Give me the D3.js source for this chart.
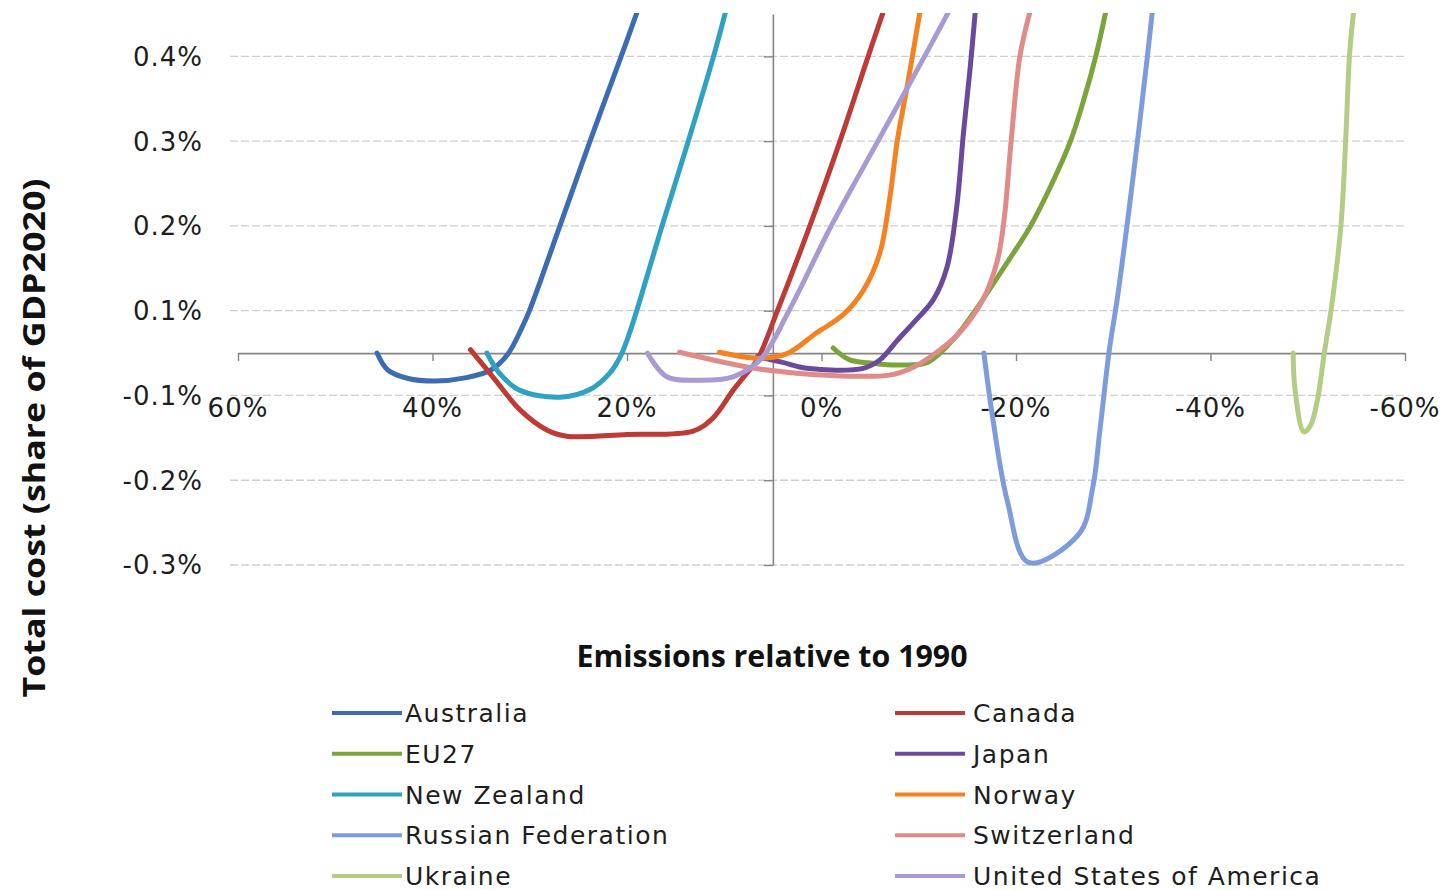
<!DOCTYPE html>
<html>
<head>
<meta charset="utf-8">
<script src="https://cdn.jsdelivr.net/npm/d3@7"></script>
<style>
  body { margin: 0; background: #ffffff; }
  svg { display: block; }
</style>
</head>
<body>
<svg id="chart" width="1448" height="890"></svg>
<script>
// Abatement cost curves: total cost (% of GDP 2020) vs emissions relative to 1990 (%)
const countries = ["Australia", "Canada", "EU27", "Japan", "New Zealand", "Norway",
  "Russian Federation", "Switzerland", "Ukraine", "United States of America"];
const colors = ["#3C6DB4", "#BE3A35", "#7BA43B", "#6B4A9E", "#2FA2C3", "#F58220",
  "#7E9CDC", "#E08A8A", "#B3CD86", "#A99AD4"];

// Emissions relative to 1990 (%) and total cost (% of GDP2020) per country
const australiaX = [45.7, 44.6, 42.5, 39.8, 36.5, 34.0, 32.3, 30.8, 30.0, 26.9, 23.8, 20.6, 19.0];
const australiaY = [0.000, -0.020, -0.030, -0.033, -0.029, -0.020, -0.002, 0.030, 0.051, 0.150, 0.250, 0.350, 0.401];

const canadaX = [36.1, 33.8, 31.0, 28.2, 26.2, 20.0, 13.2, 11.2, 9.1, 7.7, 6.6, 4.5, 1.2, -1.9, -4.8, -6.3];
const canadaY = [0.004, -0.028, -0.067, -0.091, -0.098, -0.096, -0.092, -0.077, -0.044, -0.024, -0.008, 0.051, 0.150, 0.250, 0.350, 0.401];

const eu27X = [-1.2, -2.9, -5.3, -7.8, -10.9, -13.7, -15.8, -18.7, -21.5, -23.7, -25.6, -27.0, -28.2, -29.2];
const eu27Y = [0.006, -0.008, -0.012, -0.014, -0.011, 0.018, 0.050, 0.100, 0.150, 0.200, 0.250, 0.300, 0.350, 0.401];

const japanX = [6.6, 4.0, 1.5, -4.3, -6.0, -7.8, -9.8, -11.5, -12.9, -13.9, -14.6, -15.3, -15.8];
const japanY = [-0.004, -0.011, -0.018, -0.018, -0.008, 0.015, 0.040, 0.063, 0.101, 0.172, 0.260, 0.338, 0.401];

const newZealandX = [34.4, 33.1, 31.0, 26.9, 23.8, 21.8, 20.6, 19.7, 18.6, 16.4, 13.7, 11.1, 9.9];
const newZealandY = [0.000, -0.024, -0.044, -0.052, -0.043, -0.024, -0.002, 0.025, 0.065, 0.150, 0.250, 0.350, 0.401];

const norwayX = [10.5, 6.5, 3.6, 0.5, -2.2, -4.3, -6.0, -7.0, -7.8, -8.8, -10.1];
const norwayY = [0.001, -0.006, -0.001, 0.024, 0.045, 0.074, 0.118, 0.181, 0.251, 0.314, 0.401];

const russiaX = [-16.7, -17.6, -19.1, -21.3, -26.5, -27.9, -28.6, -29.6, -30.4, -31.4, -32.5, -33.5, -34.0];
const russiaY = [0.000, -0.076, -0.174, -0.247, -0.213, -0.158, -0.094, 0.004, 0.063, 0.149, 0.251, 0.349, 0.401];

const switzerlandX = [14.6, 7.4, 4.0, -0.2, -7.0, -9.4, -12.2, -14.2, -16.6, -18.1, -18.8, -19.5, -20.4, -21.4];
const switzerlandY = [0.001, -0.017, -0.022, -0.026, -0.026, -0.017, 0.004, 0.024, 0.063, 0.110, 0.160, 0.250, 0.350, 0.401];

const ukraineX = [-48.5, -48.7, -49.6, -50.3, -51.0, -51.7, -52.4, -53.4, -53.9, -54.3, -54.7];
const ukraineY = [0.000, -0.044, -0.093, -0.085, -0.055, 0.000, 0.051, 0.149, 0.251, 0.352, 0.401];

const usaX = [17.9, 15.9, 12.5, 9.1, 6.3, 3.3, -1.0, -5.8, -10.6, -13.0];
const usaY = [0.000, -0.028, -0.032, -0.028, -0.008, 0.051, 0.150, 0.250, 0.350, 0.401];

// Axis ticks
const xTickValues = [60, 40, 20, 0, -20, -40, -60];
const xTickLabels = ["60%", "40%", "20%", "0%", "-20%", "-40%", "-60%"];
const yTickValues = [0.35, 0.25, 0.15, 0.05, -0.05, -0.15, -0.25];
const yTickLabels = ["0.4%", "0.3%", "0.2%", "0.1%", "-0.1%", "-0.2%", "-0.3%"];

const xTitle = "Emissions relative to 1990";
const yTitle = "Total cost (share of GDP2020)";

const seriesX = [australiaX, canadaX, eu27X, japanX, newZealandX, norwayX, russiaX, switzerlandX, ukraineX, usaX];
const seriesY = [australiaY, canadaY, eu27Y, japanY, newZealandY, norwayY, russiaY, switzerlandY, ukraineY, usaY];
const series = countries.map((name, i) => ({
  name,
  color: colors[i],
  points: seriesX[i].map((v, j) => ({ x: v, y: seriesY[i][j] }))
}));

const svg = d3.select("#chart");
const x = d3.scaleLinear().domain([60, -60]).range([238, 1405]);
const y = d3.scaleLinear().domain([-0.25, 0.40]).range([565, 14]);
const yAxisCross = 5; // vertical axis crosses the emissions axis at 5%

const tickFont = "'DejaVu Sans', sans-serif";

// Dashed horizontal gridlines
svg.append("g")
  .selectAll("line")
  .data(yTickValues)
  .join("line")
  .attr("x1", 230).attr("x2", x(-60))
  .attr("y1", d => y(d)).attr("y2", d => y(d))
  .attr("stroke", "#CFCFCF")
  .attr("stroke-width", 1.3)
  .attr("stroke-dasharray", "8,3");

// Horizontal axis with downward tick marks
const xAxisG = svg.append("g")
  .attr("transform", `translate(0,${y(0)})`)
  .call(d3.axisBottom(x).tickValues(xTickValues).tickSize(8).tickSizeOuter(0).tickFormat(""));
xAxisG.select(".domain").attr("stroke", "#858585").attr("stroke-width", 1.6);
xAxisG.selectAll(".tick line").attr("stroke", "#858585").attr("stroke-width", 1.4);

// Vertical axis with leftward tick marks
const yAxisG = svg.append("g")
  .attr("transform", `translate(${x(yAxisCross)},0)`)
  .call(d3.axisLeft(y).tickValues(yTickValues).tickSize(9).tickSizeOuter(0).tickFormat(""));
yAxisG.select(".domain").attr("stroke", "#858585").attr("stroke-width", 1.6);
yAxisG.selectAll(".tick line").attr("stroke", "#858585").attr("stroke-width", 1.4);

// Tick labels
svg.append("g")
  .selectAll("text")
  .data(yTickValues)
  .join("text")
  .attr("x", 203)
  .attr("y", d => y(d))
  .attr("dy", "0.36em")
  .attr("text-anchor", "end")
  .attr("font-family", tickFont)
  .attr("font-size", 26)
  .attr("letter-spacing", 1)
  .attr("fill", "#1e1e1e")
  .text((d, i) => yTickLabels[i]);

svg.append("g")
  .selectAll("text")
  .data(xTickValues)
  .join("text")
  .attr("x", d => x(d))
  .attr("y", 408)
  .attr("dy", "0.36em")
  .attr("text-anchor", "middle")
  .attr("font-family", tickFont)
  .attr("font-size", 26)
  .attr("letter-spacing", 1)
  .attr("fill", "#1e1e1e")
  .text((d, i) => xTickLabels[i]);

// Plot clip so curves stop at the top of the value range
svg.append("defs").append("clipPath").attr("id", "plotClip")
  .append("rect").attr("x", 200).attr("y", y(0.40) - 1).attr("width", 1248).attr("height", 600);

const line = d3.line()
  .x(d => x(d.x))
  .y(d => y(d.y))
  .curve(d3.curveCatmullRom.alpha(0.5));

svg.append("g")
  .attr("clip-path", "url(#plotClip)")
  .selectAll("path")
  .data(series)
  .join("path")
  .attr("d", d => line(d.points))
  .attr("fill", "none")
  .attr("stroke", d => d.color)
  .attr("stroke-width", 5)
  .attr("stroke-linejoin", "round")
  .attr("stroke-linecap", "round");

// Axis titles
svg.append("text")
  .attr("x", 772)
  .attr("y", 667)
  .attr("text-anchor", "middle")
  .attr("font-family", "'Open Sans', sans-serif")
  .attr("font-weight", "bold")
  .attr("font-size", 31)
  .attr("textLength", 391)
  .attr("lengthAdjust", "spacingAndGlyphs")
  .attr("fill", "#111")
  .text(xTitle);

svg.append("text")
  .attr("transform", "translate(45,438) rotate(-90)")
  .attr("text-anchor", "middle")
  .attr("font-family", "'Open Sans', sans-serif")
  .attr("font-weight", "bold")
  .attr("font-size", 31)
  .attr("textLength", 519)
  .attr("lengthAdjust", "spacingAndGlyphs")
  .attr("fill", "#111")
  .text(yTitle);

// Legend: two columns, five rows
const legendColX = [332, 895];
const legendTextX = [405, 973];
const legendRowY = d3.scaleLinear().domain([0, 4]).range([713, 876]);

const legend = svg.append("g")
  .selectAll("g")
  .data(series)
  .join("g")
  .attr("transform", (d, i) => `translate(0,${legendRowY(Math.floor(i / 2))})`);

legend.append("line")
  .attr("x1", (d, i) => legendColX[i % 2])
  .attr("x2", (d, i) => legendColX[i % 2] + 70)
  .attr("y1", 0).attr("y2", 0)
  .attr("stroke", d => d.color)
  .attr("stroke-width", 4);

legend.append("text")
  .attr("x", (d, i) => legendTextX[i % 2])
  .attr("y", 0)
  .attr("dy", "0.36em")
  .attr("font-family", tickFont)
  .attr("font-size", 25)
  .attr("letter-spacing", 1.5)
  .attr("fill", "#1e1e1e")
  .text(d => d.name);
</script>
</body>
</html>
